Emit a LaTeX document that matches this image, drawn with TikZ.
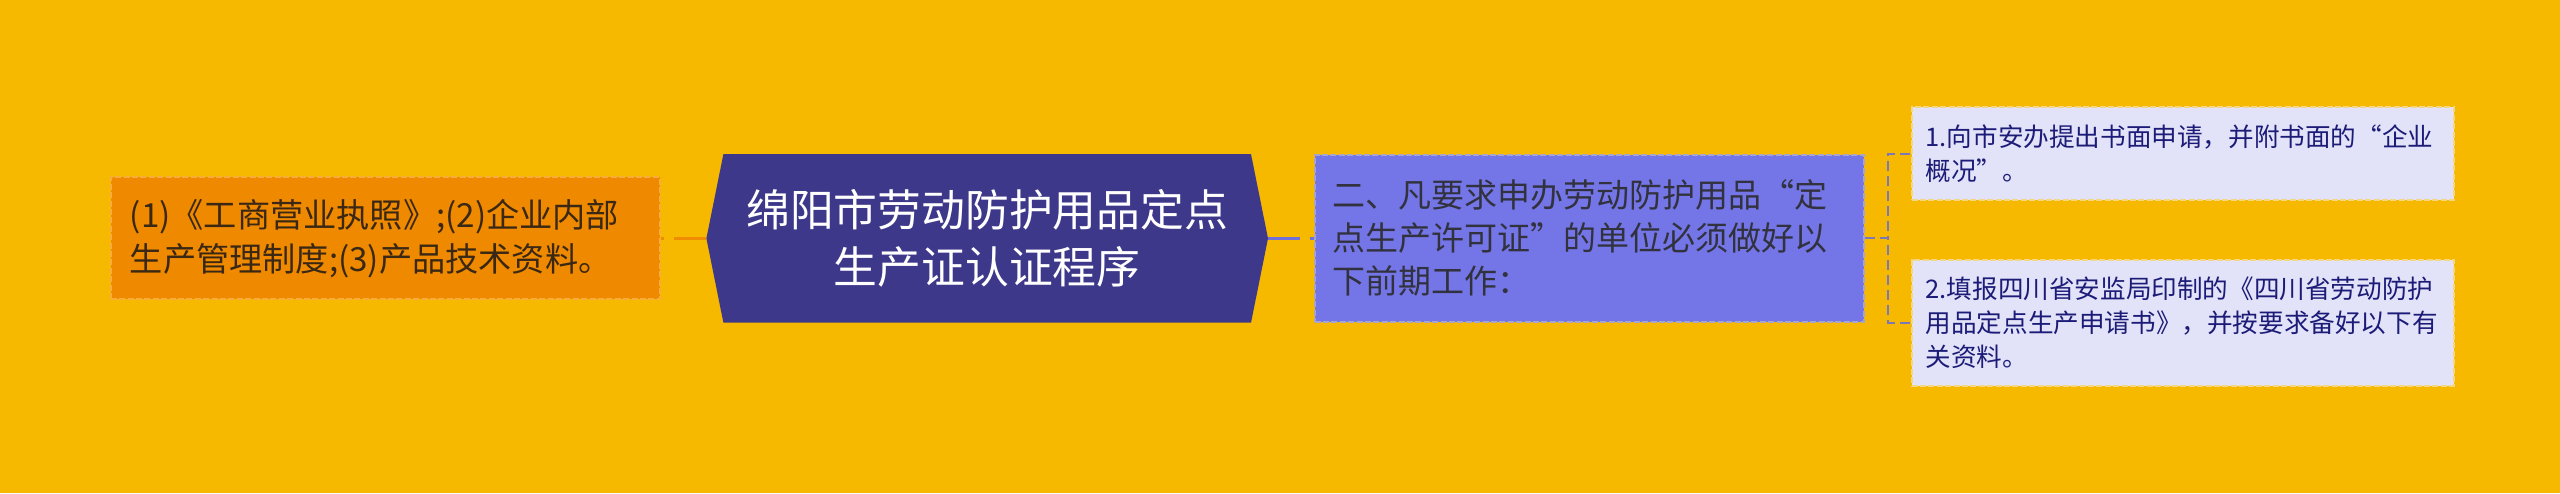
\documentclass[tikz,border=0pt]{standalone}
\usepackage{fontspec}
\setmainfont{Noto Sans CJK SC}
\usetikzlibrary{matrix,backgrounds,positioning,calc}

\definecolor{canvas}{RGB}{246,185,0}
\definecolor{leftfill}{RGB}{239,137,0}
\definecolor{leftline}{RGB}{247,172,60}
\definecolor{lefttext}{RGB}{58,40,20}
\definecolor{hubfill}{RGB}{61,56,137}
\definecolor{midfill}{RGB}{116,118,232}
\definecolor{midline}{RGB}{165,165,205}
\definecolor{midtext}{RGB}{50,50,62}
\definecolor{leaffill}{RGB}{226,226,248}
\definecolor{leafline}{RGB}{245,215,130}
\definecolor{leaftext}{RGB}{28,28,120}
\definecolor{leftlink}{RGB}{240,140,0}
\definecolor{midlink}{RGB}{112,112,216}
\definecolor{twigcol}{RGB}{122,120,184}

\begin{document}
\begin{tikzpicture}[
  box/.style={inner ysep=0pt, line width=0.5pt, dash pattern=on 1.5pt off 0.6pt, align=left},
  leftbox/.style={box, fill=leftfill, draw=leftline, text=lefttext, inner xsep=4.75pt,
    text width=127.75pt, minimum height=30.5pt, font=\fontsize{8.3pt}{11pt}\selectfont},
  hub/.style={inner sep=0pt, text=white, align=center, minimum width=140pt,
    minimum height=41.75pt, font=\fontsize{10.95pt}{14.25pt}\selectfont},
  midbox/.style={box, fill=midfill, draw=midline, text=midtext, inner xsep=4.5pt,
    text width=128.25pt, minimum height=41.75pt, font=\fontsize{8.25pt}{10.75pt}\selectfont},
  leaf/.style={box, fill=leaffill, draw=leafline, text=leaftext, inner xsep=3.5pt,
    text width=128.5pt, font=\fontsize{6.4pt}{8.5pt}\selectfont},
  link/.style={line width=0.75pt, dash pattern=on 8pt off 2.5pt},
  twig/.style={draw=twigcol, line width=0.5pt, dash pattern=on 2.5pt off 1.25pt}
]
  \useasboundingbox (0,0) rectangle (640pt,-123.25pt);
  \matrix (m) [inner sep=0pt, anchor=west, column sep=11.6pt] at (27.25pt,-59.6pt)
  {
    \node[leftbox, anchor=center] (m-1-1) {(1)《工商营业执照》;(2)企业内部\\生产管理制度;(3)产品技术资料。}; &
    \node[hub, anchor=center] (m-1-2) {绵阳市劳动防护用品定点\\生产证认证程序}; &
    \node[midbox, anchor=center] (m-1-3) {二、凡要求申办劳动防护用品“定\\点生产许可证”的单位必须做好以\\下前期工作：}; \\
  };
  \node[leaf, minimum height=23.25pt, right=11.5pt of m-1-3.north east] (r-1)
    {1.向市安办提出书面申请，并附书面的“企业\\概况”。};
  \node[leaf, minimum height=31.5pt, right=11.5pt of m-1-3.south east] (r-2)
    {2.填报四川省安监局印制的《四川省劳动防护\\用品定点生产申请书》，并按要求备好以下有\\关资料。};

  \begin{scope}[on background layer]
    \fill[canvas] (0,0) rectangle (640pt,-123.25pt);
    \fill[hubfill] ($(m-1-2.north west)+(4.25pt,0)$) -- ($(m-1-2.north east)+(-4.25pt,0)$)
      -- (m-1-2.east) -- ($(m-1-2.south east)+(-4.25pt,0)$)
      -- ($(m-1-2.south west)+(4.25pt,0)$) -- (m-1-2.west) -- cycle;
  \end{scope}

  \path[link, draw=leftlink]
  (m-1-2.west) edge (m-1-1.east)
  ;
  \path[link, draw=midlink]
  (m-1-2.east) edge (m-1-3.west)
  ;
  \draw[twig] (m-1-3.east) -- ++(5.75pt,0) |- (r-1.west);
  \draw[twig] (m-1-3.east) -- ++(5.75pt,0) |- (r-2.west);
\end{tikzpicture}
\end{document}
